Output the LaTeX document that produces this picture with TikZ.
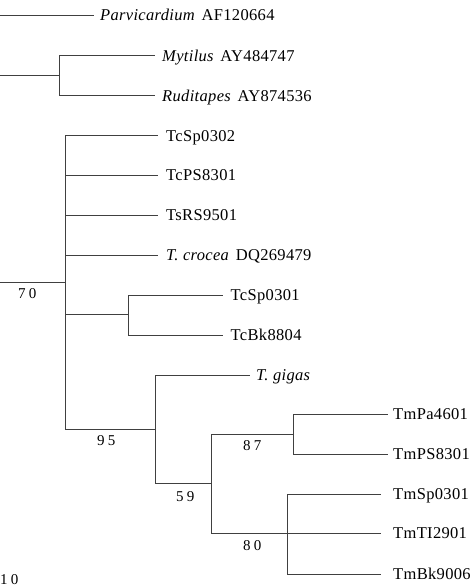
\documentclass[tikz,border=0pt]{standalone}
\usepackage{fontspec}
\setmainfont[LetterSpace=2]{Liberation Serif}
\newfontfamily\numfont[LetterSpace=22]{Liberation Serif}
\tikzset{
  leaf/.style={anchor=west, inner sep=0pt, text height=10.8pt, text depth=0pt, font=\fontsize{16.5}{19}\selectfont},
  br/.style={draw=black!75, line width=0.9pt},
  bs/.style={anchor=base west, inner sep=0pt, font=\numfont\fontsize{15}{18}\selectfont}
}
\newcommand{\gapsp}{~\hspace{2pt}}
\begin{document}
\begin{tikzpicture}[x=1pt,y=-1pt]
\useasboundingbox (0,0) rectangle (474,586);
% root ends
\coordinate (r1) at (0,15);
\coordinate (r2) at (0,75.5);
\coordinate (r3) at (0,282.3);
% internal nodes
\coordinate (nM) at (59,75.5);
\coordinate (nT) at (65,282.3);
\coordinate (nTc) at (128,314);
\coordinate (nG) at (155,429);
\coordinate (n59) at (211,483);
\coordinate (n87) at (293,434);
\coordinate (n80) at (287,533);
% leaves
\node[leaf] (parv) at (100,15) {\textit{Parvicardium}\gapsp{}AF120664};
\node[leaf] (myt) at (162,55.7) {\textit{Mytilus}\gapsp{}AY484747};
\node[leaf] (rud) at (162,95.7) {\textit{Ruditapes}\gapsp{}AY874536};
\node[leaf] (tcsp2) at (166,135.7) {TcSp0302};
\node[leaf] (tcps) at (166,175) {TcPS8301};
\node[leaf] (tsrs) at (166,215) {TsRS9501};
\node[leaf] (croc) at (166,255) {\textit{T.\ crocea}\gapsp{}DQ269479};
\node[leaf] (tcsp1) at (230.5,295) {TcSp0301};
\node[leaf] (tcbk) at (230.5,335) {TcBk8804};
\node[leaf] (gig) at (256,375) {\textit{T.\ gigas}};
\node[leaf] (tmpa) at (393,414) {TmPa4601};
\node[leaf] (tmps) at (393,454) {TmPS8301};
\node[leaf] (tmsp) at (393,494) {TmSp0301};
\node[leaf] (tmti) at (393,533) {TmTI2901};
\node[leaf] (tmbk) at (393,574) {TmBk9006};
% branches
\draw[br, shorten >=6pt] (r1) -- (parv.west);
\draw[br] (r2) -- (nM);
\draw[br] (r3) -- (nT);
\draw[br, shorten >=7pt] (nM) |- (myt.west);
\draw[br, shorten >=7pt] (nM) |- (rud.west);
\draw[br, shorten >=8pt] (nT) |- (tcsp2.west);
\draw[br, shorten >=8pt] (nT) |- (tcps.west);
\draw[br, shorten >=8pt] (nT) |- (tsrs.west);
\draw[br, shorten >=8pt] (nT) |- (croc.west);
\draw[br] (nT) |- (nTc);
\draw[br] (nT) |- (nG);
\draw[br, shorten >=7.5pt] (nTc) |- (tcsp1.west);
\draw[br, shorten >=7.5pt] (nTc) |- (tcbk.west);
\draw[br, shorten >=6pt] (nG) |- (gig.west);
\draw[br] (nG) |- (n59);
\draw[br] (n59) |- (n87);
\draw[br] (n59) |- (n80);
\draw[br, shorten >=5pt] (n87) |- (tmpa.west);
\draw[br, shorten >=5pt] (n87) |- (tmps.west);
\draw[br, shorten >=12pt] (n80) |- (tmsp.west);
\draw[br, shorten >=12pt] (n80) |- (tmti.west);
\draw[br, shorten >=12pt] (n80) |- (tmbk.west);
% bootstrap values
\node[bs] (b70) at (18,298) {70};
\node[bs] (b95) at (97,445) {95};
\node[bs] (b59) at (176,501) {59};
\node[bs] (b87) at (243,450) {87};
\node[bs] (b80) at (243,550) {80};
\node[bs] (s10) at (0,584) {10};
\end{tikzpicture}
\end{document}
